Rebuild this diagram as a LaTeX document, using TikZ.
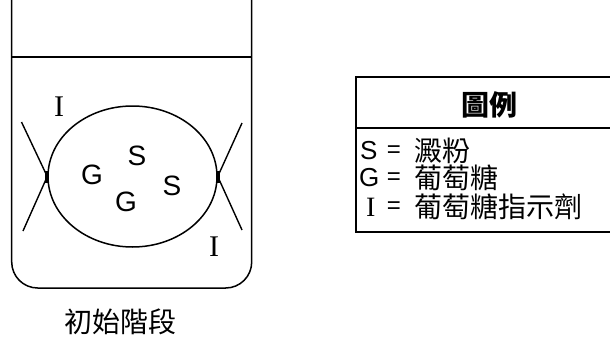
\documentclass[tikz,border=0pt]{standalone}
\usepackage{fontspec}
\setmainfont{Liberation Sans}
\newfontfamily\serifI{Liberation Serif}
\newfontfamily\cjk{Noto Sans CJK TC}
\usetikzlibrary{shapes.geometric,calc}
\begin{document}
\begin{tikzpicture}[x=1pt,y=-1pt,
  outline/.style={line width=1.5pt, black},
  thin line/.style={line width=1.4pt, black},
  letter/.style={inner sep=0pt, font=\fontsize{28}{28}\selectfont},
  ilabel/.style={inner sep=0pt, font=\fontsize{30}{30}\serifI},
  legtext/.style={inner sep=0pt, anchor=west, font=\fontsize{28}{28}\cjk},
  legkey/.style={inner sep=0pt, anchor=west, font=\fontsize{26}{26}\selectfont},
  legeq/.style={inner sep=0pt, font=\fontsize{24}{24}\selectfont},
  tie/.style={fill=black, draw=none}]
\useasboundingbox (0,0) rectangle (610,340);

% beaker and water surface
\draw[outline, rounded corners=26pt] (11.7,-2) -- (11.7,288) -- (251.7,288) -- (251.7,-2);
\draw[outline] (11.7,57) -- (251.7,57);

% dialysis bag
\node[draw, outline, ellipse, minimum width=169pt, minimum height=141pt, inner sep=0pt]
  (bag) at (132.5,176.5) {};
\coordinate (lt) at (21.5,122);
\coordinate (lb) at (23,231);
\coordinate (rt) at (242,123);
\coordinate (rb) at (242,230);
\draw[thin line] (lt) -- (bag.west) -- (lb);
\draw[thin line] (rt) -- (bag.east) -- (rb);
\fill[tie] ($(bag.west)+(-2,-6)$) rectangle ($(bag.west)+(2,6)$);
\fill[tie] ($(bag.east)+(-2,-6)$) rectangle ($(bag.east)+(2,6)$);

% contents
\node[letter] (s1) at (137,156) {S};
\node[letter] (g1) at (92,175) {G};
\node[letter] (g2) at (126,202) {G};
\node[letter] (s2) at (172,186) {S};
\node[ilabel] (i1) at (59,107) {I};
\node[ilabel] (i2) at (214,247) {I};

% caption
\node[inner sep=0pt, font=\fontsize{28}{28}\cjk] (cap) at (120,322) {初始階段};

% legend
\draw[outline] (612,77) -- (356,77) -- (356,232) -- (612,232);
\draw[outline] (356,128) -- (612,128);
\node[inner sep=0pt, font=\fontsize{28}{28}\cjk\bfseries] (head) at (489,105) {圖例};

\node[legkey] (ks) at (360,151) {S};
\node[legeq] (es) at (394,152) {=};
\node[legtext] (ts) at (414,151) {澱粉};

\node[legkey] (kg) at (359,178) {G};
\node[legeq] (eg) at (394,179) {=};
\node[legtext] (tg) at (414,178) {葡萄糖};

\node[legkey, font=\fontsize{28}{28}\serifI] (ki) at (366,207) {I};
\node[legeq] (ei) at (394,208) {=};
\node[legtext] (ti) at (414,207) {葡萄糖指示劑};
\end{tikzpicture}
\end{document}
